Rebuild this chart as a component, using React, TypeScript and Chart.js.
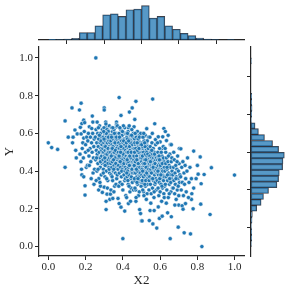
import React, { useEffect, useRef } from "react";
import { Chart, registerables } from "chart.js";

Chart.register(...registerables);

// ---- data ----
const TICK_VALUES = [0, 0.2, 0.4, 0.6, 0.8, 1.0];
const X_LABEL = "X2";
const Y_LABEL = "Y";

// marginal histogram of X2: 24 bins over [0, 1]
const X_BIN_WIDTH = 1 / 24;
const X_HIST = [2, 1, 3, 5, 22, 22, 42, 75, 78, 70, 90, 92, 102, 65, 70, 42, 32, 20, 13, 6, 3, 1, 0, 1];

// marginal histogram of Y: 32 bins over [0, 1]
const Y_BIN_WIDTH = 1 / 32;
const Y_HIST = [1, 2, 2, 1, 3, 4, 17, 30, 37, 52, 77, 82, 84, 94, 95, 99, 82, 64, 40, 22, 12, 1, 2, 3, 2, 2, 0, 0, 0, 0, 0, 1];

// scatter points [X2, Y]
const POINTS: [number, number][] = [
  [0.0,0.55],[0.018,0.525],[0.05,0.515],[0.09,0.666],[0.09,0.42],[0.107,0.58],
  [0.127,0.735],[0.13,0.55],[0.133,0.58],[0.143,0.618],[0.147,0.51],[0.155,0.597],[0.15,0.47],[0.167,0.724],
  [0.176,0.76],[0.176,0.597],[0.172,0.632],[0.18,0.652],[0.19,0.67],[0.195,0.657],[0.19,0.575],[0.185,0.55],[0.197,0.322],[0.197,0.273],[0.18,0.38],[0.19,0.37],
  [0.17,0.49],[0.175,0.45],[0.182,0.52],[0.188,0.47],[0.193,0.61],[0.2,0.54],[0.204,0.42],[0.206,0.58],[0.2,0.5],[0.178,0.41],
  [0.22,0.635],[0.233,0.626],[0.236,0.692],[0.21,0.43],[0.22,0.43],[0.24,0.39],[0.23,0.36],
  [0.212,0.56],[0.215,0.6],[0.218,0.48],[0.224,0.52],[0.226,0.58],[0.228,0.45],[0.232,0.55],[0.235,0.5],[0.238,0.6],[0.242,0.47],[0.244,0.53],[0.246,0.57],[0.248,0.41],[0.214,0.51],[0.239,0.66],[0.245,0.33],
  [0.255,1.0],[0.27,0.3],[0.29,0.287],[0.28,0.32],
  [0.252,0.58],[0.254,0.46],[0.256,0.62],[0.258,0.51],[0.26,0.55],[0.261,0.4],[0.263,0.49],[0.265,0.6],[0.266,0.44],[0.268,0.53],[0.27,0.57],[0.271,0.36],[0.273,0.5],[0.275,0.64],[0.276,0.47],[0.278,0.55],[0.279,0.42],[0.281,0.6],[0.282,0.52],[0.284,0.38],[0.285,0.58],[0.286,0.48],[0.288,0.54],[0.289,0.44],[0.29,0.62],[0.291,0.5],[0.257,0.35],[0.262,0.66],[0.267,0.41],[0.274,0.59],[0.277,0.34],[0.283,0.56],[0.287,0.51],[0.259,0.47],[0.269,0.63],[0.28,0.45],
  [0.3,0.735],[0.3,0.724],[0.31,0.63],[0.32,0.618],[0.31,0.196],[0.33,0.25],[0.31,0.24],[0.3,0.315],[0.315,0.278],[0.333,0.278],[0.31,0.55],[0.32,0.59],
  [0.293,0.52],[0.294,0.46],[0.295,0.58],[0.296,0.41],[0.297,0.5],[0.298,0.55],[0.299,0.63],[0.3,0.44],[0.301,0.53],[0.302,0.48],[0.303,0.6],[0.304,0.37],[0.305,0.51],[0.306,0.56],[0.307,0.45],[0.308,0.66],[0.309,0.49],[0.31,0.54],[0.311,0.4],[0.312,0.58],[0.313,0.47],[0.314,0.52],[0.315,0.62],[0.316,0.43],[0.317,0.55],[0.318,0.5],[0.319,0.35],[0.32,0.57],[0.321,0.46],[0.322,0.61],[0.323,0.51],[0.324,0.42],[0.325,0.56],[0.326,0.48],[0.327,0.64],[0.328,0.53],[0.329,0.39],[0.33,0.59],[0.331,0.45],[0.332,0.52],[0.295,0.39],[0.299,0.57],[0.303,0.47],[0.307,0.53],[0.311,0.6],[0.315,0.49],[0.319,0.44],[0.323,0.58],[0.327,0.41],[0.331,0.55],[0.297,0.61],[0.305,0.43],[0.313,0.36],[0.321,0.52],[0.329,0.47],[0.309,0.65],[0.317,0.31],[0.325,0.5],
  [0.34,0.63],[0.346,0.255],[0.366,0.66],[0.366,0.646],[0.366,0.635],[0.374,0.255],
  [0.334,0.5],[0.335,0.44],[0.336,0.56],[0.337,0.38],[0.338,0.52],[0.339,0.47],[0.34,0.59],[0.341,0.42],[0.342,0.54],[0.343,0.49],[0.344,0.61],[0.345,0.35],[0.346,0.51],[0.347,0.46],[0.348,0.57],[0.349,0.4],[0.35,0.53],[0.351,0.48],[0.352,0.62],[0.353,0.43],[0.354,0.55],[0.355,0.5],[0.356,0.32],[0.357,0.58],[0.358,0.45],[0.359,0.52],[0.36,0.39],[0.361,0.56],[0.362,0.47],[0.363,0.6],[0.364,0.42],[0.365,0.54],[0.366,0.49],[0.367,0.36],[0.368,0.57],[0.369,0.44],[0.37,0.51],[0.371,0.64],[0.372,0.46],[0.373,0.53],[0.374,0.41],[0.336,0.3],[0.339,0.58],[0.343,0.45],[0.347,0.53],[0.351,0.41],[0.355,0.6],[0.359,0.47],[0.363,0.33],[0.367,0.52],[0.371,0.43],[0.338,0.48],[0.342,0.37],[0.346,0.63],[0.35,0.46],[0.354,0.5],[0.358,0.55],[0.362,0.44],[0.366,0.58],[0.37,0.38],[0.374,0.49],[0.344,0.52],[0.352,0.29],[0.36,0.51],
  [0.38,0.79],[0.39,0.695],[0.41,0.63],[0.41,0.6],[0.38,0.228],[0.39,0.209],[0.41,0.188],[0.4,0.042],
  [0.376,0.5],[0.377,0.43],[0.378,0.55],[0.379,0.47],[0.38,0.6],[0.381,0.39],[0.382,0.52],[0.383,0.45],[0.384,0.57],[0.385,0.34],[0.386,0.49],[0.387,0.54],[0.388,0.42],[0.389,0.62],[0.39,0.47],[0.391,0.51],[0.392,0.37],[0.393,0.56],[0.394,0.44],[0.395,0.5],[0.396,0.59],[0.397,0.41],[0.398,0.53],[0.399,0.46],[0.4,0.3],[0.401,0.55],[0.402,0.48],[0.403,0.64],[0.404,0.43],[0.405,0.52],[0.406,0.38],[0.407,0.57],[0.408,0.45],[0.409,0.5],[0.41,0.35],[0.411,0.54],[0.412,0.47],[0.413,0.6],[0.414,0.42],[0.415,0.51],[0.416,0.27],[0.378,0.32],[0.382,0.58],[0.386,0.45],[0.39,0.53],[0.394,0.4],[0.398,0.61],[0.402,0.49],[0.406,0.44],[0.41,0.56],[0.414,0.36],[0.38,0.48],[0.388,0.5],[0.396,0.33],[0.404,0.56],[0.412,0.4],[0.384,0.63],
  [0.45,0.735],[0.435,0.713],[0.43,0.63],[0.42,0.6],[0.43,0.228],[0.46,0.635],
  [0.418,0.48],[0.419,0.41],[0.42,0.53],[0.421,0.45],[0.422,0.58],[0.423,0.37],[0.424,0.5],[0.425,0.44],[0.426,0.55],[0.427,0.47],[0.428,0.61],[0.429,0.33],[0.43,0.52],[0.431,0.42],[0.432,0.49],[0.433,0.57],[0.434,0.39],[0.435,0.51],[0.436,0.46],[0.437,0.54],[0.438,0.29],[0.439,0.48],[0.44,0.59],[0.441,0.43],[0.442,0.5],[0.443,0.36],[0.444,0.56],[0.445,0.45],[0.446,0.52],[0.447,0.4],[0.448,0.62],[0.449,0.47],[0.45,0.53],[0.451,0.34],[0.452,0.49],[0.453,0.44],[0.454,0.58],[0.455,0.41],[0.456,0.51],[0.457,0.46],[0.42,0.26],[0.424,0.57],[0.428,0.45],[0.432,0.38],[0.436,0.53],[0.44,0.48],[0.444,0.31],[0.448,0.55],[0.452,0.42],[0.456,0.6],[0.422,0.5],[0.426,0.4],[0.43,0.47],[0.434,0.64],[0.438,0.43],[0.442,0.55],[0.446,0.37],[0.45,0.49],[0.454,0.45],[0.419,0.55],[0.423,0.46],[0.427,0.35],[0.431,0.56],[0.435,0.43],[0.439,0.51],[0.443,0.47],[0.447,0.59],[0.451,0.39],[0.455,0.52],[0.421,0.39],[0.425,0.6],[0.429,0.5],[0.433,0.32],[0.437,0.48],[0.441,0.24],[0.445,0.5],[0.449,0.41],[0.453,0.54],[0.457,0.3],
  [0.464,0.674],[0.47,0.77],[0.487,0.59],[0.48,0.56],[0.49,0.196],[0.495,0.175],[0.5,0.136],[0.47,0.24],
  [0.459,0.46],[0.46,0.39],[0.461,0.52],[0.462,0.44],[0.463,0.57],[0.464,0.35],[0.465,0.49],[0.466,0.42],[0.467,0.54],[0.468,0.47],[0.469,0.3],[0.47,0.5],[0.471,0.41],[0.472,0.58],[0.473,0.45],[0.474,0.37],[0.475,0.52],[0.476,0.43],[0.477,0.48],[0.478,0.61],[0.479,0.33],[0.48,0.46],[0.481,0.53],[0.482,0.4],[0.483,0.5],[0.484,0.27],[0.485,0.45],[0.486,0.56],[0.487,0.38],[0.488,0.48],[0.489,0.43],[0.49,0.51],[0.491,0.35],[0.492,0.55],[0.493,0.44],[0.494,0.49],[0.495,0.4],[0.496,0.6],[0.497,0.46],[0.498,0.32],[0.499,0.52],[0.46,0.48],[0.464,0.55],[0.468,0.39],[0.472,0.5],[0.476,0.34],[0.48,0.42],[0.484,0.53],[0.488,0.29],[0.492,0.47],[0.496,0.42],[0.462,0.36],[0.466,0.6],[0.47,0.44],[0.474,0.48],[0.478,0.4],[0.482,0.57],[0.486,0.46],[0.49,0.37],[0.494,0.54],[0.498,0.45],[0.461,0.43],[0.465,0.31],[0.469,0.52],[0.473,0.41],[0.477,0.55],[0.481,0.36],[0.485,0.5],[0.489,0.58],[0.493,0.39],[0.497,0.48],[0.463,0.5],[0.467,0.45],[0.471,0.26],[0.475,0.46],[0.479,0.51],[0.483,0.44],[0.487,0.52],[0.491,0.42],[0.495,0.47],[0.499,0.34],
  [0.503,0.136],[0.528,0.625],[0.51,0.58],[0.52,0.55],[0.53,0.56],[0.54,0.52],[0.542,0.138],
  [0.501,0.45],[0.502,0.38],[0.503,0.5],[0.504,0.42],[0.505,0.55],[0.506,0.34],[0.507,0.47],[0.508,0.41],[0.509,0.52],[0.51,0.44],[0.511,0.29],[0.512,0.49],[0.513,0.39],[0.514,0.56],[0.515,0.43],[0.516,0.36],[0.517,0.5],[0.518,0.41],[0.519,0.46],[0.52,0.59],[0.521,0.32],[0.522,0.45],[0.523,0.51],[0.524,0.38],[0.525,0.48],[0.526,0.25],[0.527,0.43],[0.528,0.54],[0.529,0.37],[0.53,0.47],[0.531,0.42],[0.532,0.5],[0.533,0.33],[0.534,0.53],[0.535,0.44],[0.536,0.47],[0.537,0.39],[0.538,0.58],[0.539,0.45],[0.54,0.3],[0.541,0.5],[0.502,0.47],[0.506,0.53],[0.51,0.37],[0.514,0.48],[0.518,0.33],[0.522,0.4],[0.526,0.51],[0.53,0.28],[0.534,0.45],[0.538,0.4],[0.504,0.35],[0.508,0.58],[0.512,0.43],[0.516,0.46],[0.52,0.38],[0.524,0.55],[0.528,0.44],[0.532,0.36],[0.536,0.52],[0.54,0.43],[0.503,0.41],[0.507,0.3],[0.511,0.5],[0.515,0.4],[0.519,0.53],[0.523,0.35],[0.527,0.48],[0.531,0.56],[0.535,0.38],[0.539,0.46],[0.505,0.48],[0.509,0.44],[0.513,0.27],[0.517,0.44],[0.521,0.49],[0.525,0.42],[0.529,0.5],[0.533,0.4],[0.537,0.45],[0.541,0.35],[0.501,0.54],[0.512,0.6],[0.523,0.46],[0.534,0.49],[0.506,0.4],[0.517,0.55],[0.528,0.39],[0.539,0.41],
  [0.56,0.782],[0.571,0.651],[0.575,0.567],[0.561,0.12],[0.546,0.191],[0.568,0.191],[0.582,0.098],
  [0.543,0.44],[0.544,0.37],[0.545,0.48],[0.546,0.4],[0.547,0.53],[0.548,0.33],[0.549,0.45],[0.55,0.41],[0.551,0.5],[0.552,0.28],[0.553,0.43],[0.554,0.47],[0.555,0.36],[0.556,0.55],[0.557,0.42],[0.558,0.46],[0.559,0.31],[0.56,0.49],[0.561,0.39],[0.562,0.44],[0.563,0.52],[0.564,0.35],[0.565,0.47],[0.566,0.41],[0.567,0.26],[0.568,0.45],[0.569,0.5],[0.57,0.38],[0.571,0.43],[0.572,0.33],[0.573,0.48],[0.574,0.4],[0.575,0.46],[0.576,0.54],[0.577,0.36],[0.578,0.42],[0.579,0.3],[0.58,0.47],[0.581,0.39],[0.545,0.58],[0.55,0.23],[0.555,0.51],[0.56,0.36],[0.565,0.43],[0.57,0.49],[0.575,0.34],[0.58,0.41],[0.548,0.45],[0.553,0.39],[0.558,0.6],[0.563,0.42],[0.568,0.29],[0.573,0.44],
  [0.59,0.582],[0.6,0.555],[0.614,0.582],[0.62,0.626],[0.61,0.52],[0.596,0.149],[0.611,0.161],
  [0.584,0.42],[0.585,0.35],[0.586,0.46],[0.587,0.39],[0.588,0.5],[0.589,0.31],[0.59,0.43],[0.591,0.38],[0.592,0.47],[0.593,0.27],[0.594,0.41],[0.595,0.45],[0.596,0.34],[0.597,0.52],[0.598,0.4],[0.599,0.44],[0.6,0.29],[0.601,0.47],[0.602,0.37],[0.603,0.42],[0.604,0.49],[0.605,0.33],[0.606,0.45],[0.607,0.39],[0.608,0.24],[0.609,0.43],[0.61,0.48],[0.611,0.36],[0.612,0.41],[0.613,0.31],[0.614,0.46],[0.615,0.38],[0.616,0.44],[0.617,0.53],[0.618,0.35],[0.619,0.4],[0.62,0.28],[0.621,0.45],[0.622,0.37],[0.623,0.42],[0.624,0.32],[0.586,0.55],[0.59,0.21],[0.594,0.48],[0.598,0.36],[0.602,0.43],[0.606,0.5],[0.61,0.32],[0.614,0.4],[0.618,0.47],[0.622,0.26],[0.588,0.4],[0.596,0.46],[0.604,0.38],[0.612,0.44],
  [0.628,0.61],[0.643,0.59],[0.634,0.562],[0.655,0.54],[0.66,0.54],[0.63,0.5],[0.64,0.179],[0.66,0.158],[0.654,0.042],
  [0.626,0.4],[0.628,0.33],[0.63,0.44],[0.632,0.37],[0.634,0.47],[0.636,0.3],[0.638,0.41],[0.64,0.35],[0.642,0.45],[0.644,0.26],[0.646,0.39],[0.648,0.43],[0.65,0.33],[0.652,0.49],[0.654,0.38],[0.656,0.42],[0.658,0.29],[0.66,0.45],[0.662,0.36],[0.664,0.4],[0.666,0.31],[0.627,0.52],[0.633,0.23],[0.639,0.38],[0.645,0.48],[0.651,0.36],[0.657,0.34],[0.663,0.47],[0.637,0.42],[0.649,0.28],
  [0.697,0.103],[0.7,0.22],
  [0.668,0.38],[0.67,0.31],[0.672,0.42],[0.674,0.35],[0.676,0.46],[0.678,0.28],[0.68,0.39],[0.682,0.33],[0.684,0.43],[0.686,0.25],[0.688,0.37],[0.69,0.41],[0.692,0.3],[0.694,0.48],[0.696,0.36],[0.698,0.4],[0.7,0.27],[0.702,0.44],[0.704,0.34],[0.706,0.38],[0.673,0.5],[0.679,0.22],[0.685,0.36],[0.691,0.45],[0.697,0.32],[0.703,0.52],
  [0.711,0.518],[0.718,0.216],[0.723,0.198],[0.736,0.228],[0.729,0.073],
  [0.71,0.37],[0.713,0.3],[0.716,0.42],[0.719,0.34],[0.722,0.45],[0.725,0.27],[0.728,0.39],[0.731,0.33],[0.734,0.43],[0.737,0.36],[0.74,0.29],[0.744,0.4],[0.747,0.47],
  [0.78,0.506],[0.768,0.36],[0.793,0.36],[0.78,0.31],[0.77,0.28],[0.768,0.25],[0.777,0.2],[0.763,0.067],[0.755,0.34],[0.76,0.42],[0.752,0.26],
  [0.815,0.475],[0.804,0.384],[0.82,0.333],[0.818,0.225],[0.824,0.0],[0.8,0.43],
  [0.836,0.382],[0.868,0.17],[0.875,0.418],[0.999,0.379],
];

// ---- styling ----
const INK = "#262626";
const FONT_FAMILY = "'Liberation Serif', 'DejaVu Serif', serif";
const POINT_COLOR = "#1f77b4";
const BAR_FILL = "rgba(31,119,180,0.75)";
const BAR_EDGE = "rgba(30,30,40,0.85)";
const X_MIN = -0.05, X_MAX = 1.05;
const Y_MIN = -0.05, Y_MAX = 1.058;

const setTicks = (s: any) => {
  s.ticks = TICK_VALUES.map((v) => ({ value: v }));
};

const tickGrid = {
  display: true,
  drawOnChartArea: false,
  drawTicks: true,
  tickLength: 4,
  tickColor: INK,
  tickWidth: 1,
};
const spine = { display: true, color: INK, width: 1.2 };

export default function App() {
  const mainRef = useRef<HTMLCanvasElement | null>(null);
  const topRef = useRef<HTMLCanvasElement | null>(null);
  const rightRef = useRef<HTMLCanvasElement | null>(null);

  useEffect(() => {
    Chart.defaults.font.family = FONT_FAMILY;
    const charts: Chart[] = [];

    charts.push(
      new Chart(mainRef.current as HTMLCanvasElement, {
        type: "scatter",
        data: {
          datasets: [
            {
              data: POINTS.map(([x, y]) => ({ x, y })),
              backgroundColor: POINT_COLOR,
              borderColor: "#ffffff",
              borderWidth: 0.5,
              pointRadius: 2.1,
            },
          ],
        },
        options: {
          responsive: false,
          animation: false,
          devicePixelRatio: 1,
          layout: { padding: { top: 47, right: 47, left: 0, bottom: 0 } },
          plugins: { legend: { display: false }, tooltip: { enabled: false } },
          scales: {
            x: {
              type: "linear",
              position: "bottom",
              min: X_MIN,
              max: X_MAX,
              afterBuildTicks: setTicks,
              afterFit: (s: any) => {
                s.height = 35;
              },
              grid: tickGrid,
              border: spine,
              ticks: {
                color: INK,
                font: { family: FONT_FAMILY, size: 11 },
                padding: 1,
                autoSkip: false,
                maxRotation: 0,
                callback: (v: any) => Number(v).toFixed(1),
              },
              title: {
                display: true,
                text: X_LABEL,
                color: INK,
                font: { family: FONT_FAMILY, size: 13 },
                padding: { top: 0, bottom: 3 },
              },
            },
            y: {
              type: "linear",
              min: Y_MIN,
              max: Y_MAX,
              afterBuildTicks: setTicks,
              afterFit: (s: any) => {
                s.width = 39;
              },
              grid: tickGrid,
              border: spine,
              ticks: {
                color: INK,
                font: { family: FONT_FAMILY, size: 11 },
                padding: 2,
                autoSkip: false,
                callback: (v: any) => Number(v).toFixed(1),
              },
              title: {
                display: true,
                text: Y_LABEL,
                color: INK,
                font: { family: FONT_FAMILY, size: 13 },
                padding: { top: 2, bottom: 0 },
              },
            },
          },
        },
      } as any)
    );

    charts.push(
      new Chart(topRef.current as HTMLCanvasElement, {
        type: "bar",
        data: {
          datasets: [
            {
              data: X_HIST.map((c, i) => ({ x: (i + 0.5) * X_BIN_WIDTH, y: c })),
              backgroundColor: BAR_FILL,
              borderColor: BAR_EDGE,
              borderWidth: 0.8,
              borderSkipped: false,
              barPercentage: 1,
              categoryPercentage: 1,
            },
          ],
        },
        options: {
          responsive: false,
          animation: false,
          devicePixelRatio: 1,
          layout: { padding: { top: 4, right: 47, left: 39, bottom: 0 } },
          plugins: { legend: { display: false }, tooltip: { enabled: false } },
          scales: {
            x: {
              type: "linear",
              min: X_MIN,
              max: X_MAX,
              offset: false,
              afterBuildTicks: setTicks,
              afterFit: (s: any) => {
                s.height = 4;
              },
              grid: tickGrid,
              border: spine,
              ticks: { display: false },
            },
            y: { display: false, min: 0, max: 107 },
          },
        },
      } as any)
    );

    charts.push(
      new Chart(rightRef.current as HTMLCanvasElement, {
        type: "bar",
        data: {
          datasets: [
            {
              data: Y_HIST.map((c, i) => ({ y: (i + 0.5) * Y_BIN_WIDTH, x: c })),
              backgroundColor: BAR_FILL,
              borderColor: BAR_EDGE,
              borderWidth: 0.8,
              borderSkipped: false,
              barPercentage: 1,
              categoryPercentage: 1,
            },
          ],
        },
        options: {
          indexAxis: "y",
          responsive: false,
          animation: false,
          devicePixelRatio: 1,
          layout: { padding: { top: 47, right: 5, left: 0, bottom: 35 } },
          plugins: { legend: { display: false }, tooltip: { enabled: false } },
          scales: {
            y: {
              type: "linear",
              position: "left",
              min: Y_MIN,
              max: Y_MAX,
              offset: false,
              afterBuildTicks: setTicks,
              afterFit: (s: any) => {
                s.width = 7;
              },
              grid: tickGrid,
              border: spine,
              ticks: { display: false },
            },
            x: { display: false, min: 0, max: 104 },
          },
        },
      } as any)
    );

    return () => charts.forEach((c) => c.destroy());
  }, []);

  return (
    <div style={{ position: "fixed", left: 0, top: 0, width: 291, height: 291, background: "#fff" }}>
      <canvas ref={mainRef} width={291} height={291} style={{ position: "absolute", left: 0, top: 0 }} />
      <canvas ref={topRef} width={291} height={44} style={{ position: "absolute", left: 0, top: 0 }} />
      <canvas ref={rightRef} width={47} height={291} style={{ position: "absolute", left: 244, top: 0 }} />
    </div>
  );
}
